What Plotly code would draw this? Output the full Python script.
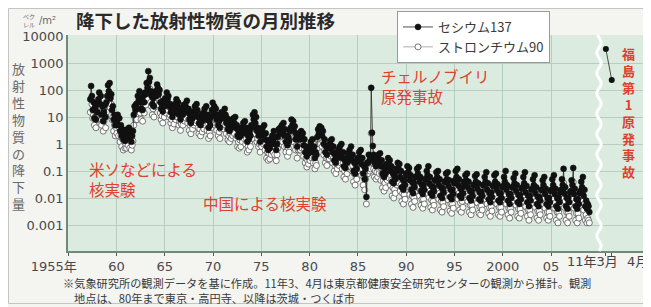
import numpy as np
import plotly.graph_objects as go

# ---------------- data (Bq/m^2 per month) ----------------
start_year, start_month = 1957, 4

cs137 = [
    45, 140, 60, 18, 35, 9, 22, 8, 30,                                   # 1957 Apr-Dec
    15, 45, 80, 30, 60, 12, 25, 7, 15, 28, 10, 35,                       # 1958
    60, 150, 90, 180, 50, 70, 18, 25, 8, 12, 5, 9,                       # 1959
    6, 12, 5, 9, 3, 5, 2, 3.5, 1.5, 2.8, 1.3, 2.2,                       # 1960
    1.5, 3.5, 2, 4, 1.6, 2.8, 1.2, 2, 3, 12, 25, 18,                     # 1961
    30, 20, 60, 40, 90, 35, 20, 45, 18, 60, 35, 80,                      # 1962
    70, 180, 120, 500, 200, 280, 90, 60, 30, 50, 25, 60,                 # 1963
    90, 60, 160, 120, 70, 100, 35, 20, 28, 16, 40, 25,                   # 1964
    50, 35, 80, 45, 60, 25, 30, 15, 20, 10, 25, 14,                      # 1965
    30, 20, 45, 25, 35, 12, 18, 8, 14, 22, 12, 28,                       # 1966
    18, 30, 22, 40, 15, 20, 8, 12, 6, 14, 9, 16,                         # 1967
    12, 25, 15, 30, 18, 10, 6, 9, 5, 12, 7, 14,                          # 1968
    9, 20, 12, 25, 8, 12, 4, 7, 5, 10, 18, 34,                           # 1969
    15, 25, 12, 20, 8, 12, 5, 7, 4, 9, 15, 10,                           # 1970
    14, 9, 20, 12, 6, 9, 3.5, 5, 3, 6, 4, 8,                             # 1971
    5, 9, 6, 10, 4, 5, 2, 3, 1.8, 3.5, 2, 4,                             # 1972
    3, 6, 4, 7, 2.5, 4, 1.2, 2, 1.5, 3, 2, 5,                            # 1973
    4, 12, 8, 15, 6, 10, 3, 4, 2, 2.5, 1.2, 2.5,                         # 1974
    2, 4, 2.5, 5, 1.5, 2.5, 0.8, 1.3, 0.6, 1.1, 0.7, 1.5,                # 1975
    1, 2, 1.3, 3, 1, 1.8, 0.6, 1, 1.8, 3.5, 2.5, 4,                      # 1976
    2.5, 5, 3, 6, 2, 3.5, 1.2, 2, 0.9, 1.8, 1.3, 3,                      # 1977
    4, 8, 5, 7, 3, 4.5, 1.5, 2.2, 0.8, 1.5, 2.5, 1.5,                    # 1978
    1.5, 3, 1.8, 2.5, 0.9, 1.5, 0.5, 0.8, 0.35, 0.6, 0.45, 0.8,          # 1979
    0.6, 1.2, 0.8, 1.5, 0.5, 0.8, 0.3, 0.5, 0.4, 1.8, 3.5, 2.5,          # 1980
    4.5, 2.5, 4, 2, 3, 1, 1.5, 0.5, 0.8, 0.4, 0.7, 0.9,                  # 1981
    0.7, 1.3, 0.9, 1.5, 0.5, 0.8, 0.25, 0.4, 0.2, 0.45, 0.3, 0.6,        # 1982
    0.4, 0.8, 0.5, 1, 0.3, 0.5, 0.15, 0.25, 0.13, 0.3, 0.2, 0.45,        # 1983
    0.3, 0.6, 0.35, 0.8, 0.25, 0.4, 0.1, 0.2, 0.08, 0.2, 0.12, 0.3,      # 1984
    0.25, 0.5, 0.3, 0.6, 0.18, 0.3, 0.08, 0.15, 0.05, 0.12, 0.011, 0.2,  # 1985
    0.2, 0.4, 0.25, 0.3, 120, 2.6, 0.85, 0.4, 0.2, 0.3, 0.15, 0.25,      # 1986
    0.2, 0.4, 0.25, 0.45, 0.15, 0.25, 0.08, 0.15, 0.06, 0.12, 0.08, 0.18,         # 1987
    0.15, 0.3, 0.18, 0.25, 0.1, 0.15, 0.04, 0.08, 0.035, 0.07, 0.05, 0.12,        # 1988
    0.1, 0.2, 0.12, 0.18, 0.06, 0.1, 0.025, 0.05, 0.02, 0.045, 0.03, 0.08,        # 1989
    0.07, 0.15, 0.09, 0.13, 0.045, 0.07, 0.02, 0.04, 0.015, 0.035, 0.025, 0.06,   # 1990
    0.06, 0.12, 0.08, 0.14, 0.04, 0.06, 0.018, 0.03, 0.014, 0.03, 0.02, 0.05,     # 1991
    0.05, 0.1, 0.07, 0.15, 0.035, 0.06, 0.015, 0.028, 0.012, 0.025, 0.018, 0.045, # 1992
    0.045, 0.09, 0.06, 0.1, 0.03, 0.05, 0.012, 0.025, 0.01, 0.022, 0.016, 0.04,   # 1993
    0.04, 0.08, 0.05, 0.09, 0.028, 0.045, 0.011, 0.02, 0.009, 0.02, 0.014, 0.035, # 1994
    0.045, 0.1, 0.06, 0.12, 0.03, 0.05, 0.012, 0.022, 0.01, 0.025, 0.015, 0.04,   # 1995
    0.035, 0.07, 0.045, 0.08, 0.025, 0.04, 0.01, 0.018, 0.008, 0.018, 0.012, 0.03,    # 1996
    0.03, 0.065, 0.04, 0.075, 0.022, 0.035, 0.009, 0.016, 0.008, 0.017, 0.012, 0.03,  # 1997
    0.03, 0.06, 0.04, 0.09, 0.02, 0.035, 0.009, 0.015, 0.007, 0.016, 0.011, 0.028,    # 1998
    0.03, 0.07, 0.04, 0.08, 0.02, 0.032, 0.008, 0.015, 0.007, 0.015, 0.01, 0.025,     # 1999
    0.028, 0.06, 0.04, 0.1, 0.02, 0.03, 0.008, 0.014, 0.006, 0.014, 0.01, 0.025,      # 2000
    0.025, 0.055, 0.035, 0.08, 0.018, 0.03, 0.007, 0.013, 0.006, 0.013, 0.009, 0.022, # 2001
    0.025, 0.06, 0.035, 0.09, 0.016, 0.028, 0.007, 0.012, 0.005, 0.012, 0.008, 0.02,  # 2002
    0.022, 0.05, 0.03, 0.07, 0.015, 0.025, 0.006, 0.011, 0.005, 0.011, 0.008, 0.02,   # 2003
    0.02, 0.045, 0.03, 0.06, 0.014, 0.022, 0.006, 0.01, 0.005, 0.01, 0.007, 0.018,    # 2004
    0.02, 0.05, 0.03, 0.07, 0.014, 0.022, 0.005, 0.01, 0.004, 0.01, 0.007, 0.016,     # 2005
    0.02, 0.05, 0.03, 0.12, 0.015, 0.025, 0.005, 0.01, 0.004, 0.01, 0.007, 0.016,     # 2006
    0.018, 0.045, 0.03, 0.13, 0.014, 0.022, 0.005, 0.009, 0.004, 0.009, 0.006, 0.015, # 2007
    0.018, 0.04, 0.025, 0.06, 0.012, 0.02, 0.005, 0.008, 0.004, 0.006, 0.005, 0.003, # 2008
]

sr90 = [
    15, 50, 30, 9, 12, 5, 10, 4, 12,                                     # 1957 Apr-Dec
    8, 20, 35, 14, 25, 5, 10, 3, 7, 12, 4, 15,                           # 1958
    25, 60, 40, 70, 22, 30, 8, 10, 3, 5, 2, 4,                           # 1959
    2.5, 5, 2, 4, 1.2, 2, 0.8, 1.5, 0.6, 1.2, 0.7, 1,                    # 1960
    0.7, 1.5, 0.9, 1.8, 0.7, 1.2, 0.6, 0.9, 1.3, 5, 10, 8,               # 1961
    12, 8, 25, 16, 35, 14, 8, 18, 7, 25, 14, 30,                         # 1962
    28, 70, 50, 200, 80, 110, 35, 25, 12, 20, 10, 24,                    # 1963
    35, 25, 65, 48, 28, 40, 14, 8, 11, 6, 16, 10,                        # 1964
    20, 14, 32, 18, 24, 10, 12, 6, 8, 4, 10, 5.5,                        # 1965
    12, 8, 18, 10, 14, 5, 7, 3.2, 5.5, 9, 5, 11,                         # 1966
    7, 12, 9, 16, 6, 8, 3.2, 5, 2.4, 5.5, 3.6, 6.5,                      # 1967
    5, 10, 6, 12, 7, 4, 2.4, 3.6, 2, 5, 2.8, 5.5,                        # 1968
    3.6, 8, 5, 10, 3.2, 5, 1.6, 2.8, 2, 4, 7, 14,                        # 1969
    6, 10, 5, 8, 3.2, 5, 2, 2.8, 1.6, 3.6, 6, 4,                         # 1970
    5.5, 3.6, 8, 5, 2.4, 3.6, 1.4, 2, 1.2, 2.4, 1.6, 3.2,                # 1971
    2, 3.6, 2.4, 4, 1.6, 2, 0.8, 1.2, 0.7, 1.4, 0.8, 1.6,                # 1972
    1.2, 2.4, 1.6, 2.8, 1, 1.6, 0.5, 0.8, 0.6, 1.2, 0.8, 2,              # 1973
    1.6, 5, 3.2, 6, 2.4, 4, 1.2, 1.6, 0.8, 1, 0.5, 1,                    # 1974
    0.8, 1.6, 1, 2, 0.6, 1, 0.3, 0.5, 0.25, 0.45, 0.28, 0.6,             # 1975
    0.4, 0.8, 0.5, 1.2, 0.4, 0.7, 0.24, 0.4, 0.7, 1.4, 1, 1.6,           # 1976
    1, 2, 1.2, 2.4, 0.8, 1.4, 0.5, 0.8, 0.35, 0.7, 0.5, 1.2,             # 1977
    1.6, 3.2, 2, 2.8, 1.2, 1.8, 0.6, 0.9, 0.3, 0.6, 1, 0.6,              # 1978
    0.6, 1.2, 0.7, 1, 0.35, 0.6, 0.2, 0.3, 0.14, 0.24, 0.18, 0.3,        # 1979
    0.24, 0.5, 0.3, 0.6, 0.2, 0.3, 0.12, 0.2, 0.16, 0.7, 1.4, 1,         # 1980
    1.8, 1, 1.6, 0.8, 1.2, 0.4, 0.6, 0.2, 0.3, 0.16, 0.28, 0.35,         # 1981
    0.28, 0.5, 0.35, 0.6, 0.2, 0.3, 0.1, 0.16, 0.08, 0.18, 0.12, 0.24,   # 1982
    0.16, 0.3, 0.2, 0.4, 0.12, 0.2, 0.06, 0.1, 0.05, 0.12, 0.08, 0.18,   # 1983
    0.12, 0.24, 0.14, 0.3, 0.1, 0.16, 0.04, 0.08, 0.03, 0.08, 0.05, 0.12,    # 1984
    0.1, 0.2, 0.12, 0.24, 0.07, 0.12, 0.03, 0.06, 0.02, 0.05, 0.006, 0.08,   # 1985
    0.08, 0.16, 0.1, 0.12, 2.5, 0.3, 0.2, 0.12, 0.06, 0.1, 0.05, 0.09,       # 1986
    0.06, 0.12, 0.08, 0.14, 0.045, 0.08, 0.024, 0.045, 0.018, 0.036, 0.024, 0.055,          # 1987
    0.045, 0.09, 0.055, 0.075, 0.03, 0.045, 0.012, 0.024, 0.01, 0.021, 0.015, 0.036,        # 1988
    0.03, 0.06, 0.036, 0.054, 0.018, 0.03, 0.0075, 0.015, 0.006, 0.0135, 0.009, 0.024,      # 1989
    0.021, 0.045, 0.027, 0.039, 0.0135, 0.021, 0.006, 0.012, 0.0045, 0.0105, 0.0075, 0.018, # 1990
    0.018, 0.036, 0.024, 0.042, 0.012, 0.018, 0.0054, 0.009, 0.0042, 0.009, 0.006, 0.015,   # 1991
    0.015, 0.03, 0.021, 0.045, 0.0105, 0.018, 0.0045, 0.0084, 0.0036, 0.0075, 0.0054, 0.0135,  # 1992
    0.0135, 0.027, 0.018, 0.03, 0.009, 0.015, 0.0036, 0.0075, 0.003, 0.0066, 0.0048, 0.012,     # 1993
    0.012, 0.024, 0.015, 0.027, 0.0084, 0.0135, 0.0033, 0.006, 0.0027, 0.006, 0.0042, 0.0105,   # 1994
    0.0135, 0.03, 0.018, 0.036, 0.009, 0.015, 0.0036, 0.0066, 0.003, 0.0075, 0.0045, 0.012,     # 1995
    0.0105, 0.021, 0.0135, 0.024, 0.0075, 0.012, 0.003, 0.0054, 0.0024, 0.0054, 0.0036, 0.009,  # 1996
    0.009, 0.0195, 0.012, 0.0225, 0.0066, 0.0105, 0.0027, 0.0048, 0.0024, 0.0051, 0.0036, 0.009, # 1997
    0.009, 0.018, 0.012, 0.027, 0.006, 0.0105, 0.0027, 0.0045, 0.0021, 0.0048, 0.0033, 0.0084,  # 1998
    0.009, 0.021, 0.012, 0.024, 0.006, 0.0096, 0.0024, 0.0045, 0.0021, 0.0045, 0.003, 0.0075,   # 1999
    0.0084, 0.018, 0.012, 0.03, 0.006, 0.009, 0.0024, 0.0042, 0.0018, 0.0042, 0.003, 0.0075,    # 2000
    0.0075, 0.0165, 0.0105, 0.024, 0.0054, 0.009, 0.0021, 0.0039, 0.0018, 0.0039, 0.0027, 0.0066,  # 2001
    0.0075, 0.018, 0.0105, 0.027, 0.0048, 0.0084, 0.0021, 0.0036, 0.0015, 0.0036, 0.0024, 0.006,   # 2002
    0.0066, 0.015, 0.009, 0.021, 0.0045, 0.0075, 0.0018, 0.0033, 0.0015, 0.0033, 0.0024, 0.006,    # 2003
    0.006, 0.0135, 0.009, 0.018, 0.0042, 0.0066, 0.0018, 0.003, 0.0015, 0.003, 0.0021, 0.0054,     # 2004
    0.006, 0.015, 0.009, 0.021, 0.0042, 0.0066, 0.0015, 0.003, 0.0012, 0.003, 0.0021, 0.0048,      # 2005
    0.006, 0.015, 0.009, 0.036, 0.0045, 0.0075, 0.0015, 0.003, 0.0012, 0.003, 0.0021, 0.0048,      # 2006
    0.0054, 0.0135, 0.009, 0.039, 0.0042, 0.0066, 0.0015, 0.0027, 0.0012, 0.0027, 0.0018, 0.0045, # 2007
    0.0054, 0.012, 0.0075, 0.018, 0.0036, 0.006, 0.0015, 0.0024, 0.0012, 0.0018, 0.0015, 0.0012,  # 2008
]

fuku_months = [3, 4]            # 2011 March, April
fuku_cs137 = [3300, 235]

year_ticks = [1955, 1960, 1965, 1970, 1975, 1980, 1985, 1990, 1995, 2000, 2005]
year_labels = ["1955年" + "\u00a0" * 7, "60", "65", "70", "75", "80", "85", "90", "95", "2000", "05"]
y_ticks = [1e4, 1e3, 1e2, 10, 1, 0.1, 0.01, 0.001]
y_labels = ["10000", "1000", "100", "10", "1", "0.1", "0.01", "0.001"]

assert len(cs137) == len(sr90)
x_months = [start_year + (start_month - 1 + i + 0.5) / 12 for i in range(len(cs137))]

# ---------------- layout helpers ----------------
# The page body has an 8px default margin, so the figure starts at (8, 8) on the page.
OFF = 8
W, H = 651 - OFF, 307 - OFF
L, R, T, B = 60, 6, 27, 56
PW, PH = W - L - R, H - T - B


def px(x):   # page pixel x -> paper
    return (x - OFF - L) / PW


def py(y):   # page pixel y -> paper
    return (H - B - (y - OFF)) / PH


RED = "#e0402e"
JP = "Noto Sans CJK JP"
NUM = "DejaVu Sans, Noto Sans CJK JP"
split = px(599)

fig = go.Figure()
fig.add_trace(go.Scatter(
    x=x_months, y=sr90, mode="lines+markers", name="ストロンチウム90",
    line=dict(color="#8a8a8a", width=0.7),
    marker=dict(symbol="circle", size=6, color="white",
                line=dict(color="#555555", width=0.8)),
))
fig.add_trace(go.Scatter(
    x=x_months, y=cs137, mode="lines+markers", name="セシウム137",
    line=dict(color="#222222", width=0.8),
    marker=dict(symbol="circle", size=6, color="#111111",
                line=dict(color="#111111", width=0.5)),
))
fig.add_trace(go.Scatter(
    x=fuku_months, y=fuku_cs137, mode="lines+markers", showlegend=False,
    xaxis="x2", yaxis="y",
    line=dict(color="#222222", width=0.8),
    marker=dict(symbol="circle", size=6, color="#111111"),
))


def note(x, y, text, size, color, family=JP, xanchor="left", align="left"):
    return dict(x=px(x), y=py(y), xref="paper", yref="paper",
                xanchor=xanchor, yanchor="middle", showarrow=False, align=align,
                text=text, font=dict(family=family, size=size, color=color))


annotations = [
    note(74, 20, "<b>降下した放射性物質の月別推移</b>", 18.5, "#2a2a2a"),
    note(37, 20, "ベク<br>レル", 6, "#666", xanchor="right", align="right"),
    note(37, 20, "/m²", 10, "#666", family=NUM),
    note(18, 136, "<br>".join("放射性物質の降下量"), 13, "#6a6a6a",
         xanchor="center", align="center"),
    note(628, 112, "<b>" + "<br>".join("福島第1原発事故") + "</b>", 13, RED,
         xanchor="center", align="center"),
    note(87, 179, "米ソなどによる<br>核実験", 15.5, RED),
    note(201, 203, "中国による核実験", 15.5, RED),
    note(379, 86, "チェルノブイリ<br>原発事故", 15.5, RED),
    note(592, 262, "11年3月", 13, "#444", family=NUM, xanchor="center"),
    note(637, 262, "4月", 13, "#444", family=NUM, xanchor="center"),
    note(61, 282.5, "※気象研究所の観測データを基に作成。11年3、4月は東京都健康安全研究センターの観測から推計。観測",
         11.2, "#3a3a3a"),
    note(72, 297.5, "地点は、80年まで東京・高円寺、以降は茨城・つくば市", 11.2, "#3a3a3a"),
]

# wavy break line between 2010 and 2011
ys = np.linspace(0, 1, 90)
wave = [(split + (2.2 / PW) * np.sin(k * 0.75), yv) for k, yv in enumerate(ys)]
path = "M " + " L ".join(f"{a:.5f},{b:.5f}" for a, b in wave)

shapes = [
    dict(type="path", xref="paper", yref="paper", path=path,
         line=dict(color="white", width=3), layer="above"),
    dict(type="rect", xref="paper", yref="paper",
         x0=px(8.5), x1=px(646.5), y0=py(303.5), y1=py(8.5),
         line=dict(color="#c4c4c4", width=1), layer="below"),
]

axis_font = dict(family=NUM, size=13, color="#4a4a4a")
GRID = "#b7cdbf"
AXIS = "#6f8a78"

fig.update_layout(
    width=W, height=H,
    margin=dict(l=L, r=R, t=T, b=B, autoexpand=False),
    paper_bgcolor="#f4f4f1",
    plot_bgcolor="#dcebdf",
    showlegend=True,
    legend=dict(x=px(397), y=py(11), xanchor="left", yanchor="top",
                bgcolor="white", bordercolor="#9a9a9a", borderwidth=1,
                font=dict(family=JP, size=13, color="#3a3a3a"),
                traceorder="reversed", itemwidth=30, tracegroupgap=0),
    xaxis=dict(domain=[0, split], range=[1954.98, 2009.96],
               tickvals=year_ticks, ticktext=year_labels,
               showgrid=True, gridcolor=GRID, gridwidth=1,
               showline=True, linecolor=AXIS, linewidth=1.5,
               ticks="outside", ticklen=3, tickcolor="#555",
               tickfont=axis_font, zeroline=False),
    xaxis2=dict(domain=[split, 1], range=[1.83, 9.67], anchor="y",
                tickvals=fuku_months, showticklabels=False,
                showgrid=False, showline=True, linecolor=AXIS, linewidth=1.5,
                ticks="outside", ticklen=3, tickcolor="#555", zeroline=False),
    yaxis=dict(type="log", range=[-3.963, 4.037],
               tickvals=y_ticks, ticktext=y_labels,
               showgrid=True, gridcolor=GRID, gridwidth=1,
               showline=True, linecolor=AXIS, linewidth=1.5,
               ticks="", tickfont=axis_font, zeroline=False),
    annotations=annotations,
    shapes=shapes,
)

fig.write_html("out.html")
